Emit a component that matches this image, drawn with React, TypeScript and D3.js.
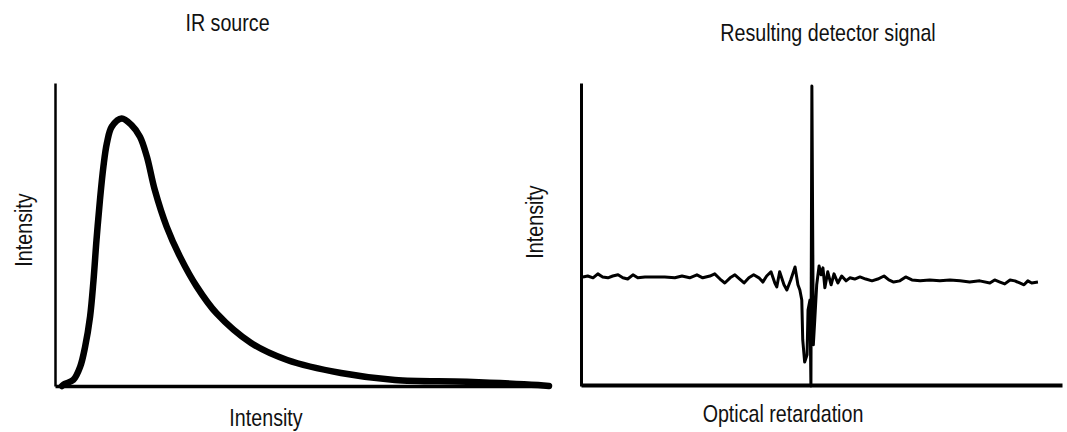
import React, { useEffect, useRef } from "react";
import * as d3 from "d3";

// IR source emission curve (arbitrary units)
const sourceX = [1.4, 2.0, 3.7, 5.1, 6.1, 7.1, 7.8, 8.4, 9.1, 9.8, 10.5, 11.5, 13.5, 15.5, 17.2, 18.6, 20.2, 22.6, 25.3, 28.7, 32.7, 39.7, 47.0, 57.9, 68.8, 83.4, 97.8, 100];
const sourceY = [0, 0.7, 2.0, 6.4, 13.0, 22.9, 35.0, 48.2, 61.4, 72.4, 80.1, 85.6, 88.3, 86.1, 82.3, 75.7, 64.7, 52.6, 42.7, 32.8, 24.0, 14.2, 8.6, 4.3, 2.0, 1.4, 0.3, 0];

// Detector signal (interferogram) vs optical retardation (arbitrary units)
const signalX = [-47.6, -46.6, -45.5, -44.5, -43.5, -42.4, -41.4, -40.3, -39.3, -38.3, -37.2, -36.2, -34.7, -32.6, -30.6, -28.5, -27.0, -25.4, -23.9, -22.7, -21.2, -20.2, -19.1, -18.1, -17.0, -16.0, -15.0, -14.1, -13.1, -12.1, -11.0, -10.2, -9.4, -8.5, -7.7, -7.3, -6.7, -5.8, -5.2, -4.4, -3.5, -2.9, -2.5, -2.1, -1.9, -1.5, -1.0, -0.8, -0.4, -0.2, 0, 0.3, 0.6, 1.0, 1.5, 1.9, 2.3, 2.7, 3.3, 4.0, 4.6, 5.4, 6.2, 7.1, 7.9, 8.9, 10.0, 11.2, 12.5, 13.7, 15.0, 16.0, 17.0, 18.3, 19.5, 20.8, 22.5, 24.5, 26.6, 28.7, 30.8, 32.8, 34.9, 37.0, 38.0, 39.1, 40.1, 41.2, 42.2, 43.2, 44.1, 44.9, 45.7, 47.0];
const signalY = [0, 0.3, -0.3, 1.0, 0, -0.3, 0.3, 0.7, -0.3, -0.7, 0.7, -0.3, 0, 0, 0, -0.3, 0.3, -0.3, 0.7, -0.3, 0.3, 1.0, -0.7, -2.0, -0.3, 0.7, -0.7, -2.0, -0.3, 0.7, -0.3, -1.7, 0.3, 1.7, -2.0, -3.3, 1.7, -2.6, -4.3, -1.0, 3.3, -2.6, -4.3, -7.6, -20.8, -28.1, -25.7, -10.9, -7.6, -36.0, 63.0, -22.4, -14.2, -2.6, 3.6, 0.7, 3.0, -3.6, 1.7, -2.6, 1.0, -2.0, 0.3, -1.3, -0.3, -0.7, 0, -0.7, -1.3, -0.7, 0.3, -1.0, -1.7, -1.3, 0, -1.0, -1.3, -1.0, -1.3, -1.0, -1.3, -1.7, -1.3, -2.0, -1.0, -1.7, -2.3, -1.0, -1.3, -2.0, -2.6, -1.3, -2.0, -1.7];

const titles = ["IR source", "Resulting detector signal"];
const xLabels = ["Intensity", "Optical retardation"];
const yLabels = ["Intensity", "Intensity"];

const W = 1067;
const H = 432;
const FONT = "'Liberation Sans', Arial, sans-serif";

export default function App() {
  const ref = useRef<SVGSVGElement | null>(null);

  useEffect(() => {
    const svg = d3.select(ref.current);
    svg.selectAll("*").remove();

    // Left panel scales
    const xL = d3.scaleLinear().domain([0, 100]).range([55, 549]);
    const yL = d3.scaleLinear().domain([0, 100]).range([386, 83]);
    // Right panel scales
    const xR = d3.scaleLinear().domain([-48, 52]).range([581, 1062]);
    const yR = d3.scaleLinear().domain([-36, 64]).range([386, 83]);

    const gL = svg.append("g");
    const axL = gL.append("g").attr("transform", `translate(0,${yL(0)})`)
      .call(d3.axisBottom(xL).tickValues([]).tickSizeOuter(0));
    axL.select(".domain").attr("stroke", "#000").attr("stroke-width", 3.5);
    const ayL = gL.append("g").attr("transform", `translate(${xL(0)},0)`)
      .call(d3.axisLeft(yL).tickValues([]).tickSizeOuter(0));
    ayL.select(".domain").attr("stroke", "#000").attr("stroke-width", 2.5);

    const lineL = d3.line<number>()
      .x((_, i) => xL(sourceX[i]))
      .y((d) => yL(d))
      .curve(d3.curveCatmullRom.alpha(0.5));
    gL.append("path")
      .attr("d", lineL(sourceY) as string)
      .attr("fill", "none")
      .attr("stroke", "#000")
      .attr("stroke-width", 6.5)
      .attr("stroke-linecap", "round")
      .attr("stroke-linejoin", "round");

    const gR = svg.append("g");
    const axR = gR.append("g").attr("transform", `translate(0,${yR(-36) - 1})`)
      .call(d3.axisBottom(xR).tickValues([]).tickSizeOuter(0));
    axR.select(".domain").attr("stroke", "#000").attr("stroke-width", 4);
    const ayR = gR.append("g").attr("transform", `translate(${xR(-48)},0)`)
      .call(d3.axisLeft(yR).tickValues([]).tickSizeOuter(0));
    ayR.select(".domain").attr("stroke", "#000").attr("stroke-width", 3);

    const lineR = d3.line<number>()
      .x((_, i) => xR(signalX[i]))
      .y((d) => yR(d))
      .curve(d3.curveLinear);
    gR.append("path")
      .attr("d", lineR(signalY) as string)
      .attr("fill", "none")
      .attr("stroke", "#000")
      .attr("stroke-width", 3)
      .attr("stroke-linejoin", "round");

    const txt = (x: number, y: number, s: string, rot: boolean) => {
      svg.append("text")
        .attr("transform", `translate(${x},${y})${rot ? " rotate(-90)" : ""} scale(0.82,1)`)
        .attr("text-anchor", "middle")
        .attr("font-family", FONT)
        .attr("font-size", 24)
        .attr("fill", "#111")
        .text(s);
    };
    txt(227.5, 31, titles[0], false);
    txt(828, 41, titles[1], false);
    txt(266, 426, xLabels[0], false);
    txt(783, 422, xLabels[1], false);
    txt(32, 230, yLabels[0], true);
    txt(543, 222, yLabels[1], true);
  }, []);

  return (
    <svg ref={ref} width={W} height={H} style={{ position: "absolute", left: 0, top: 0, background: "#fff" }} />
  );
}
